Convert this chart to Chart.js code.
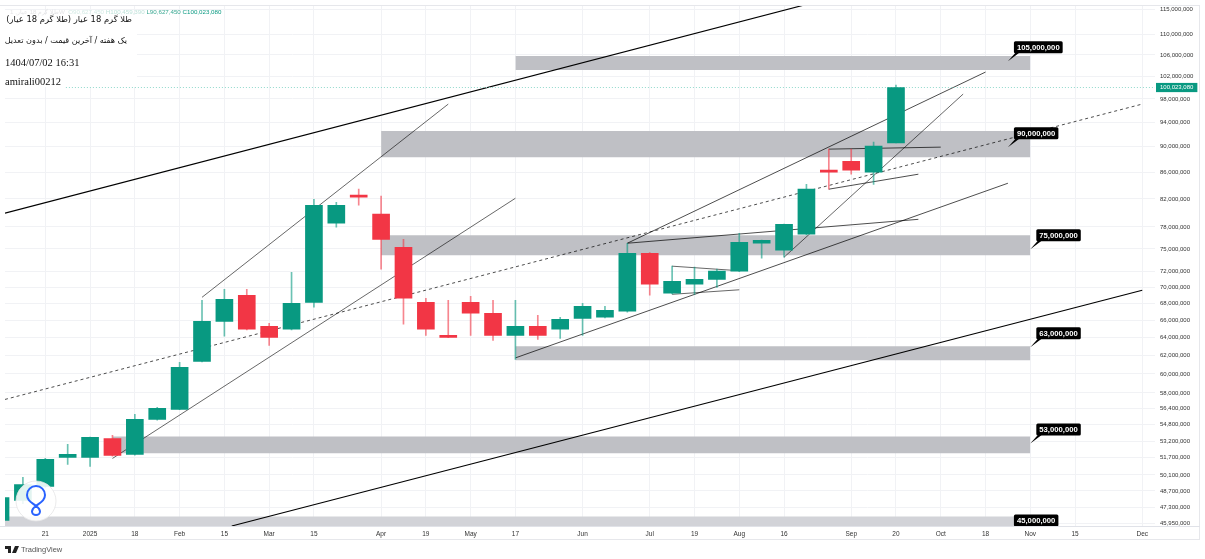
<!DOCTYPE html>
<html>
<head>
<meta charset="utf-8">
<title>طلا گرم 18 عیار</title>
<script src="https://cdn.jsdelivr.net/npm/chart.js@4"></script>
<style>
  html, body { margin: 0; padding: 0; background: #fff; }
  #wrap { position: relative; width: 1205px; height: 559px; overflow: hidden; }
  canvas { position: absolute; left: 0; top: 0; }
  .frame { position: absolute; left: 0; top: 5px; width: 1200px; height: 535px; border-top: 1px solid #e6e7eb; border-right: 1px solid #e6e7eb; border-bottom: 1px solid #e6e7eb; box-sizing: border-box; }
  .axisLine { position: absolute; left: 0; top: 526px; width: 1200px; height: 1px; background: #e0e2e8; }
  .headBg { position: absolute; left: 5px; top: 15px; width: 132px; height: 72px; background: #fff; }
  .head { position: absolute; left: 5px; color: #111; white-space: nowrap; }
  .fa { font-family: "DejaVu Sans", sans-serif; direction: rtl; text-align: right; }
  .en { font-family: "Liberation Serif", serif; font-size: 10.5px; }
  #ohlc { position: absolute; left: 10px; top: 8px; font: 6.2px "Liberation Sans", sans-serif; white-space: nowrap; }
  #logo { position: absolute; left: 15px; top: 480px; }
  #tvmark { position: absolute; left: 5px; top: 545px; height: 10px; font: 7.5px "Liberation Sans", sans-serif; color: #555; white-space: nowrap; }
  #tvmark svg { vertical-align: -1px; margin-right: 2px; }
</style>
</head>
<body>
<div id="wrap">
  <canvas id="goldChart" width="1205" height="559"></canvas>
  <div class="frame"></div>
  <div class="axisLine"></div>
  <div class="headBg"></div>
  <div id="ohlc"><span style="color:#e4e4e6">طلا گرم 18 عیار, 1W</span>&nbsp; <span style="color:#d5ebe6">O90,627,450</span> <span style="color:#bfe3da">H100,459,390</span> <span style="color:#3aa892">L90,627,450</span> <span style="color:#089981">C100,023,080</span></div>
  <div class="head fa" style="top:14px;width:127px;font-size:8.4px">طلا گرم 18 عیار (طلا گرم 18 عیار)</div>
  <div class="head fa" style="top:35px;width:122px;font-size:8.1px">یک هفته / آخرین قیمت / بدون تعدیل</div>
  <div class="head en" style="top:57px">1404/07/02 16:31</div>
  <div class="head en" style="top:76px">amirali00212</div>
  <svg id="logo" width="42" height="42" viewBox="0 0 42 42">
    <circle cx="21" cy="21" r="20" fill="rgba(255,255,255,0.88)" stroke="#e4e4e6" stroke-width="0.8"/>
    <path d="M21 26 C16 22 12 20 12 15 A9 9 0 0 1 30 15 C30 20 26 22 21 26 C18 28 17 30 17 31.5 A4 3.5 0 0 0 25 31.5 C25 30 24 28 21 26" fill="none" stroke="#2962ff" stroke-width="2"/>
  </svg>
  <div id="tvmark"><svg width="14" height="7" viewBox="0 0 14 7"><path d="M0 0H6V7H3V3H0ZM10 0H14L11 7H7Z" fill="#222"/></svg>TradingView</div>
</div>
<script>
// weekly candles, prices in millions
const weeks = [0, 1, 2, 3, 4, 5, 6, 7, 8, 9, 10, 11, 12, 13, 14, 15, 16, 17, 18, 19, 20, 21, 22, 23, 24, 25, 26, 27, 28, 29, 30, 31, 32, 33, 34, 35, 36, 37, 38, 39, 40];
const opens = [46.19, 47.87, 49.09, 51.70, 51.70, 53.47, 51.98, 55.32, 56.32, 61.36, 65.90, 69.04, 65.32, 64.98, 68.18, 78.51, 82.54, 79.79, 75.22, 68.18, 64.28, 68.18, 66.86, 64.28, 65.32, 64.98, 66.26, 66.38, 67.10, 74.42, 69.29, 70.41, 71.03, 72.07, 75.76, 74.82, 76.99, 86.31, 87.69, 86.00, 90.62745];
const closes = [48.13, 49.26, 51.51, 51.98, 53.57, 51.88, 55.32, 56.42, 60.71, 65.90, 68.54, 64.98, 64.05, 68.06, 81.07, 81.07, 82.24, 76.29, 68.67, 64.98, 64.05, 66.86, 64.28, 65.32, 64.28, 66.14, 67.70, 67.22, 74.42, 70.41, 70.78, 71.03, 72.07, 75.88, 76.16, 78.37, 83.43, 86.00, 86.31, 90.09, 100.02308];
const highs = [48.13, 49.88, 51.60, 52.91, 53.60, 53.77, 55.82, 56.52, 61.25, 68.42, 69.78, 69.78, 65.67, 71.94, 81.94, 81.51, 83.43, 82.39, 76.29, 68.67, 68.42, 68.92, 68.42, 68.42, 66.62, 66.38, 68.06, 67.70, 75.76, 74.50, 72.72, 72.59, 72.33, 77.12, 76.20, 78.40, 84.17, 89.61, 89.61, 90.73, 100.45939];
const lows = [46.10, 47.60, 49.00, 51.05, 50.87, 51.80, 51.90, 55.25, 56.30, 61.30, 64.17, 64.90, 63.14, 64.90, 67.58, 77.96, 81.07, 72.33, 65.56, 64.28, 64.00, 64.28, 63.70, 61.57, 63.82, 63.93, 64.28, 66.30, 67.00, 69.04, 69.20, 69.16, 70.03, 72.00, 73.75, 73.89, 76.90, 83.43, 85.69, 84.13, 90.62745];

const lastPrice = 100.02308;

const yTicks = [115, 110, 106, 102, lastPrice, 98, 94, 90, 86, 82, 78, 75, 72, 70, 68, 66, 64, 62, 60, 58, 56.4, 54.8, 53.2, 51.7, 50.1, 48.7, 47.3, 45.95];
const xTicks = [2, 4, 6, 8, 10, 12, 14, 17, 19, 21, 23, 26, 29, 31, 33, 35, 38, 40, 42, 44, 46, 48, 51];
const xTickLabels = ['21', '2025', '18', 'Feb', '15', 'Mar', '15', 'Apr', '19', 'May', '17', 'Jun', 'Jul', '19', 'Aug', '16', 'Sep', '20', 'Oct', '18', 'Nov', '15', 'Dec'];

// support/resistance zones
const zoneNames = ['105,000,000', '90,000,000', '75,000,000', '63,000,000', '53,000,000', '45,000,000'];
const zoneStart = [23, 17, 17, 23, 5, -1];
const zoneEnd = [46, 46, 46, 46, 46, 46];
const zoneHigh = [105.79, 92.54, 76.85, 63.03, 53.67, 46.53];
const zoneLow = [103.19, 88.34, 74.15, 61.48, 52.07, 45.0];
const zoneTagWeek = [45, 45, 46, 46, 46, 45];
const zoneTagPrice = [104.84, 89.93, 74.95, 62.92, 53.0, 45.06];

// trend lines: [week, price]
const channelUpper = [[0.2, 79.93], [35.91, 115.89]];
const channelLower = [[10.33, 45.74], [51, 69.66]];
const midLine = [[0.2, 57.33], [51, 97.11]];
const riseA = [[9, 68.79], [20, 97.11]];
const riseB = [[5, 51.60], [23, 82.09]];
const riseC = [[23, 61.74], [45, 84.32]];
const wedgeLow = [[28, 75.76], [41, 79.06]];
const wedgeHigh = [[28, 75.76], [44, 102.82]];
const boxTop = [[30, 72.72], [32.65, 72.20]];
const boxLow = [[30, 69.16], [33, 69.72]];
const steep = [[35, 73.89], [43, 98.86]];
const flatTop = [[37, 89.61], [42, 89.93]];
const flatLow = [[37, 83.43], [41, 85.69]];

const GREEN = '#089981';
const RED = '#f23645';
const GREEN_WICK = 'rgba(8,153,129,0.6)';
const RED_WICK = 'rgba(242,54,69,0.6)';
const GRID = '#f1f2f5';

function toPoints(line) {
  return line.map(p => ({ x: p[0], y: p[1] }));
}

function lineSet(line, width, dash) {
  return {
    type: 'line',
    data: toPoints(line),
    borderColor: '#000',
    borderWidth: width,
    borderDash: dash || [],
    pointRadius: 0,
    fill: false,
    order: 20,
  };
}

function isUp(i) {
  return closes[i] >= opens[i];
}

const zoneSets = zoneNames.map((name, i) => ({
  type: 'line',
  label: name,
  data: [{ x: zoneStart[i], y: zoneHigh[i] }, { x: zoneEnd[i], y: zoneHigh[i] }],
  borderWidth: 0,
  pointRadius: 0,
  backgroundColor: i === 5 ? '#d2d3d8' : '#bfc0c5',
  fill: { value: zoneLow[i] },
  order: 30,
}));

const trendSets = [
  lineSet(channelUpper, 1.2),
  lineSet(channelLower, 1.2),
  lineSet(midLine, 0.7, [3, 3]),
  lineSet(riseA, 0.6),
  lineSet(riseB, 0.6),
  lineSet(riseC, 0.7),
  lineSet(wedgeLow, 0.7),
  lineSet(wedgeHigh, 0.7),
  lineSet(boxTop, 0.6),
  lineSet(boxLow, 0.6),
  lineSet(steep, 0.6),
  lineSet(flatTop, 0.7),
  lineSet(flatLow, 0.7),
];

const priceLine = {
  type: 'line',
  data: [{ x: 2.92, y: lastPrice }, { x: 52, y: lastPrice }],
  borderColor: '#8fd9cb',
  borderWidth: 1,
  borderDash: [1, 2],
  pointRadius: 0,
  fill: false,
  order: 15,
};

const wickSet = {
  type: 'bar',
  data: weeks.map((w, i) => ({ x: w, y: [lows[i], highs[i]] })),
  backgroundColor: ctx => (isUp(ctx.dataIndex) ? GREEN_WICK : RED_WICK),
  barThickness: 1,
  grouped: false,
  order: 2,
};

const bodySet = {
  type: 'bar',
  data: weeks.map((w, i) => ({ x: w, y: [opens[i], closes[i]] })),
  backgroundColor: ctx => (isUp(ctx.dataIndex) ? GREEN : RED),
  barThickness: 17,
  grouped: false,
  order: 1,
};

// black callouts on the zones
const zoneTags = {
  id: 'zoneTags',
  afterDatasetsDraw(chart) {
    const { ctx, scales, chartArea } = chart;
    ctx.save();
    ctx.beginPath();
    ctx.rect(0, 0, chart.width, chartArea.bottom);
    ctx.clip();
    ctx.font = 'bold 7.7px "Liberation Sans", sans-serif';
    ctx.textBaseline = 'middle';
    zoneNames.forEach((name, i) => {
      const ax = scales.x.getPixelForValue(zoneTagWeek[i]);
      const ay = scales.y.getPixelForValue(zoneTagPrice[i]);
      const left = ax + 6;
      const top = ay - 20;
      const w = ctx.measureText(name).width + 6;
      ctx.fillStyle = '#000';
      ctx.beginPath();
      ctx.moveTo(ax, ay);
      ctx.lineTo(left + 6, top + 11);
      ctx.lineTo(left + 2, top + 11);
      ctx.closePath();
      ctx.fill();
      ctx.beginPath();
      ctx.roundRect(left, top, w, 12, 1.5);
      ctx.fill();
      ctx.fillStyle = '#fff';
      ctx.fillText(name, left + 3, top + 6.3);
    });
    ctx.restore();
  },
};

new Chart(document.getElementById('goldChart'), {
  type: 'bar',
  data: { datasets: [...zoneSets, ...trendSets, priceLine, wickSet, bodySet] },
  options: {
    responsive: false,
    animation: false,
    devicePixelRatio: 1,
    layout: { padding: { left: 5, top: 5, right: 0, bottom: 0 } },
    plugins: { legend: { display: false }, tooltip: { enabled: false } },
    scales: {
      x: {
        type: 'linear',
        offset: false,
        min: 0.2,
        max: 51.57,
        grid: { color: GRID, lineWidth: 1, offset: false, drawTicks: false },
        border: { display: false },
        afterBuildTicks(scale) {
          scale.ticks = xTicks.map(value => ({ value }));
        },
        afterFit(scale) {
          scale.height = 32.5;
          scale.paddingLeft = 0;
          scale.paddingRight = 0;
        },
        ticks: {
          autoSkip: false,
          maxRotation: 0,
          padding: 4,
          color: '#333',
          font: { family: '"Liberation Sans", sans-serif', size: 6.5 },
          callback: value => xTickLabels[xTicks.indexOf(value)],
        },
      },
      y: {
        type: 'logarithmic',
        position: 'right',
        min: 45.70,
        max: 115.89,
        grid: {
          color: ctx => (ctx.tick && ctx.tick.value === lastPrice ? 'rgba(0,0,0,0)' : GRID),
          lineWidth: 1,
          drawTicks: false,
        },
        border: { display: false },
        afterBuildTicks(scale) {
          scale.ticks = yTicks.map(value => ({ value }));
        },
        afterFit(scale) {
          scale.width = 50;
          scale.paddingTop = 0;
          scale.paddingBottom = 0;
        },
        ticks: {
          autoSkip: false,
          padding: 5,
          color: ctx => (ctx.tick.value === lastPrice ? '#fff' : '#333'),
          font: { family: '"Liberation Sans", sans-serif', size: 6 },
          showLabelBackdrop: ctx => ctx.tick.value === lastPrice,
          backdropColor: GREEN,
          backdropPadding: { top: 1, bottom: 1, left: 4, right: 4 },
          callback: value => Math.round(value * 1e6).toLocaleString('en-US'),
        },
      },
    },
  },
  plugins: [zoneTags],
});
</script>
</body>
</html>
